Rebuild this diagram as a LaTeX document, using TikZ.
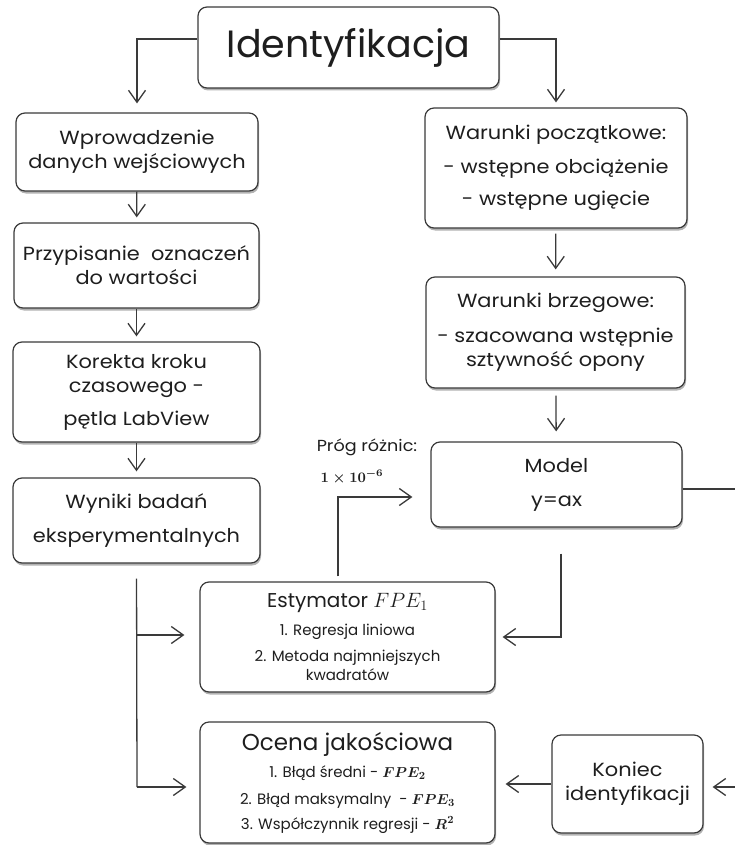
\documentclass[tikz,border=0pt]{standalone}
\usepackage{graphicx}
\usepackage{amsmath}
\usepackage{fontspec}
\setmainfont{Poppins}
\newfontfamily\widefont{Poppins}[FakeStretch=1.1]
\usetikzlibrary{arrows.meta,shadows}
\definecolor{ln}{HTML}{3A3A3A}
\definecolor{tx}{HTML}{1E1E1E}
\begin{document}
\begin{tikzpicture}[x=1pt,y=-1pt,
  box/.style={draw=ln, line width=1.2pt, rounded corners=9pt, fill=white, text=tx,
    align=center, inner sep=0pt,
    drop shadow={shadow xshift=1pt,shadow yshift=-2.5pt,opacity=0.3,fill=black}},
  conn/.style={draw=ln, line width=1.3pt},
  arr/.style={conn, -{Straight Barb[length=12pt,width=17pt,line width=1.3pt]}},
  txt/.style={font=\widefont\fontsize{19}{24}\selectfont},
  lbl/.style={text=tx, inner sep=0pt},
]
\useasboundingbox (0,0) rectangle (735,845);

\node[box, minimum width=301pt, minimum height=81pt, font=\fontsize{38}{40}\selectfont] (ident) at (348.5,47.5) {Identyfikacja};

\node[box, txt, minimum width=242pt, minimum height=78pt] (wprow) at (137,152) {Wprowadzenie\\danych wejściowych};
\node[box, txt, minimum width=245pt, minimum height=85pt] (przyp) at (136.5,265.5) {Przypisanie\ \ oznaczeń\\do wartości};
\node[box, txt, minimum width=247pt, minimum height=100pt] (korekta) at (136.5,392) {Korekta kroku\\czasowego -\\[9pt]pętla LabView};
\node[box, txt, minimum width=247pt, minimum height=85pt] (wyniki) at (136.5,520.5) {Wyniki badań\\[10pt]eksperymentalnych};

\node[box, txt, minimum width=262pt, minimum height=120pt] (warp) at (556,168) {Warunki początkowe:\\[10pt]- wstępne obciążenie\\[8pt]- wstępne ugięcie};
\node[box, txt, minimum width=259pt, minimum height=111pt] (warb) at (555.5,332.5) {Warunki brzegowe:\\[11pt]- szacowana wstępnie\\sztywność opony};
\node[box, txt, minimum width=251pt, minimum height=85pt] (model) at (556.5,484.5) {Model\\[10pt]y=ax};

\node[box, minimum width=295pt, minimum height=110pt, font=\fontsize{15}{19}\selectfont] (estym) at (347.5,637)
  {{\fontsize{20}{24}\selectfont Estymator $FPE_1$}\\[9pt]1. Regresja liniowa\\[7pt]2. Metoda najmniejszych\\kwadratów};
\node[box, minimum width=295pt, minimum height=121pt, font=\fontsize{15}{19}\selectfont] (ocena) at (347.5,782.5)
  {{\fontsize{23}{24}\selectfont Ocena jakościowa}\\[8pt]1. Błąd średni - $\boldsymbol{FPE_2}$\\[8pt]2. Błąd maksymalny\ \ - $\boldsymbol{FPE_3}$\\[6pt]3. Współczynnik regresji - $\boldsymbol{R^2}$};
\node[box, txt, minimum width=151pt, minimum height=98pt] (koniec) at (627.5,784) {Koniec\\identyfikacji};

\node[lbl, font=\widefont\fontsize{16}{18}\selectfont] (prog) at (367,447) {Próg różnic:};
\node[lbl] (thr) at (352,477) {\scalebox{1.45}{$\boldsymbol{1\times10^{-6}}$}};

\coordinate (outR) at (735,489);
\coordinate (inR) at (735,787);
\coordinate (jA) at (137,635);
\coordinate (jB) at (137,787);

% connectors
\draw[arr, shorten >=9pt] ([yshift=8.5pt]ident.west) -| (wprow.north);
\draw[arr, shorten >=5pt] ([yshift=8.5pt]ident.east) -| (warp.north);
\draw[arr, shorten >=5pt] (wprow) -- (przyp);
\draw[arr, shorten >=5pt] (przyp) -- (korekta);
\draw[arr, shorten >=6pt] (korekta) -- (wyniki);
\draw[arr, shorten <=5pt, shorten >=7pt] (warp) -- (warb);
\draw[arr, shorten <=7pt, shorten >=10pt] (warb) -- (model);
\draw[arr, shorten <=26pt, shorten >=7pt] ([xshift=4.5pt]model.south) |- (estym.east);
\draw[arr, shorten <=5pt, shorten >=18pt] ([xshift=-9.5pt]estym.north) |- ([yshift=-12.5pt]model.west);
\draw[conn] ([yshift=-4.5pt]model.east) -- (outR);
\draw[arr, shorten >=9pt] (inR) -- (koniec.east |- inR);
\draw[arr, shorten >=10pt] (koniec.west) -- (koniec.west -| ocena.east);
\draw[conn, shorten <=15pt] (wyniki.south) -- (jB);
\draw[arr, shorten >=15pt] (jA) -- (jA -| estym.west);
\draw[arr, shorten >=13pt] (jB) -- (jB -| ocena.west);
\end{tikzpicture}
\end{document}
